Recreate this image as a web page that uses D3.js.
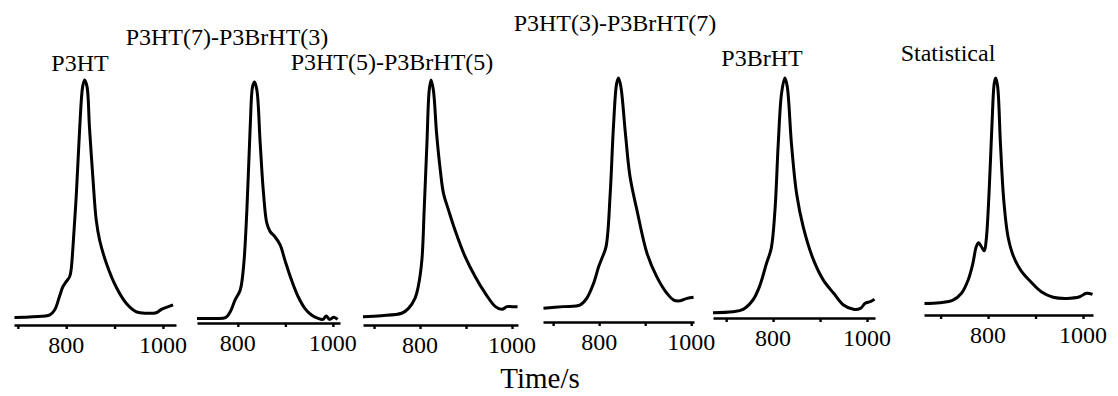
<!DOCTYPE html>
<html><head><meta charset="utf-8"><script src="https://cdn.jsdelivr.net/npm/d3@7"></script></head>
<body style="margin:0">
<svg id="c" width="1118" height="396" font-family="Times New Roman, Liberation Serif, Tinos, serif"></svg>
<script>
// ---- data ----
const seriesNames = ["P3HT", "P3HT(7)-P3BrHT(3)", "P3HT(5)-P3BrHT(5)", "P3HT(3)-P3BrHT(7)", "P3BrHT", "Statistical"];
const xTickValues = [700, 800, 900, 1000];
const xTickLabels = ["", "800", "", "1000"];
const xAxisTitle = "Time/s";

// elution time (s) and normalised signal for each sample
const timeP3HT = [693,731,766,776,786,793,800,807,810,814,821,828,834,838,843,848,855,862,869,883,903,924,945,966,986,997,1007,1021];
const signalP3HT = [0.031,0.034,0.041,0.061,0.116,0.156,0.177,0.197,0.224,0.320,0.537,0.809,0.973,1.0,0.973,0.809,0.605,0.429,0.347,0.252,0.156,0.089,0.054,0.048,0.050,0.064,0.072,0.082];

const timeB73 = [714,746,774,784,794,805,812,819,826,831,835,840,847,854,861,868,878,889,899,913,927,941,955,969,979,986,993,1002,1010];
const signalB73 = [0.019,0.019,0.022,0.047,0.095,0.137,0.234,0.469,0.815,0.981,1.0,0.967,0.746,0.538,0.414,0.379,0.358,0.324,0.261,0.178,0.109,0.061,0.033,0.019,0.015,0.029,0.015,0.024,0.015];

const timeB55 = [676,716,760,775,789,796,804,809,815,820,824,829,836,844,851,862,876,898,920,942,964,978,989,1000,1012];
const signalB55 = [0.034,0.038,0.048,0.068,0.109,0.156,0.265,0.469,0.742,0.959,1.0,0.959,0.782,0.633,0.537,0.469,0.388,0.279,0.197,0.129,0.075,0.064,0.075,0.075,0.075];

const timeB37 = [679,722,759,773,788,799,806,815,824,831,838,842,847,857,867,882,904,925,947,962,976,991,1005];
const signalB37 = [0.056,0.063,0.070,0.097,0.159,0.227,0.261,0.309,0.527,0.800,0.978,1.0,0.966,0.773,0.596,0.459,0.281,0.186,0.118,0.090,0.087,0.097,0.101];

const timeP3BrHT = [672,714,736,757,771,786,796,804,811,818,825,830,839,850,864,886,907,929,950,971,986,996,1007,1016];
const signalP3BrHT = [0.022,0.026,0.036,0.075,0.131,0.228,0.290,0.450,0.728,0.936,1.0,0.966,0.728,0.519,0.381,0.242,0.158,0.103,0.054,0.036,0.040,0.061,0.068,0.078];

const timeStat = [666,698,726,744,758,768,775,780,786,792,796,802,808,813,816,820,826,833,842,853,870,890,912,937,965,993,1007,1020];
const signalStat = [0.049,0.052,0.063,0.092,0.148,0.218,0.288,0.305,0.288,0.271,0.316,0.513,0.795,0.978,1.0,0.966,0.724,0.485,0.330,0.250,0.185,0.140,0.098,0.075,0.070,0.077,0.092,0.087];

const seriesTimes = [timeP3HT, timeB73, timeB55, timeB37, timeP3BrHT, timeStat];
const seriesSignals = [signalP3HT, signalB73, signalB55, signalB37, signalP3BrHT, signalStat];
// visible x-axis extent (s) of each small panel
const axisStart = [692, 714, 676, 678, 672, 665];
const axisEnd = [1027, 1015, 1013, 1006, 1017, 1021];

// ---- layout (pixels) ----
const panelLeft = [14, 197, 363, 543, 713, 924];
const panelRight = [176, 340, 518, 694, 875, 1093];
const axisY = [325, 323, 325, 322, 318, 315];
const peakY = [80, 82, 80, 78, 78, 78];
const titleX = [80, 227, 392, 615, 762, 948];
const titleY = [71, 45, 70, 31, 66, 61];

const svg = d3.select("#c");

seriesNames.forEach((name, i) => {
  const x = d3.scaleLinear().domain([axisStart[i], axisEnd[i]]).range([panelLeft[i], panelRight[i]]);
  const y = d3.scaleLinear().domain([0, 1]).range([axisY[i], peakY[i]]);

  const ticks = xTickValues.filter(v => v >= axisStart[i] && v <= axisEnd[i]);
  const axis = d3.axisBottom(x)
    .tickValues(ticks)
    .tickSize(4)
    .tickSizeOuter(0)
    .tickFormat(() => "");
  const ag = svg.append("g").attr("transform", `translate(0,${axisY[i]})`).call(axis);
  ag.attr("font-family", null).attr("font-size", null);
  ag.select(".domain").attr("stroke", "#000").attr("stroke-width", 2.4);
  ag.selectAll(".tick line").attr("stroke", "#000").attr("stroke-width", 2.4);
  ag.selectAll(".tick text").remove();

  ticks.forEach(v => {
    const lab = xTickLabels[xTickValues.indexOf(v)];
    if (!lab) return;
    svg.append("text")
      .attr("x", x(v)).attr("y", axisY[i] + 28)
      .attr("text-anchor", "middle")
      .style("font-family", "Times New Roman")
      .style("font-size", "24px")
      .text(lab);
  });

  const line = d3.line()
    .x((d, k) => x(seriesTimes[i][k]))
    .y(d => y(d))
    .curve(d3.curveCatmullRom.alpha(0.5));
  svg.append("path")
    .datum(seriesSignals[i])
    .attr("d", line)
    .attr("fill", "none")
    .attr("stroke", "#000")
    .attr("stroke-width", 3)
    .attr("stroke-linejoin", "round");

  svg.append("text")
    .attr("x", titleX[i]).attr("y", titleY[i])
    .attr("text-anchor", "middle")
    .style("font-family", "Times New Roman")
    .style("font-size", "24px")
    .text(name);
});

svg.append("text")
  .attr("x", 540).attr("y", 388)
  .attr("text-anchor", "middle")
  .style("font-family", "Times New Roman")
  .style("font-size", "29px")
  .text(xAxisTitle);
</script>
</body></html>
